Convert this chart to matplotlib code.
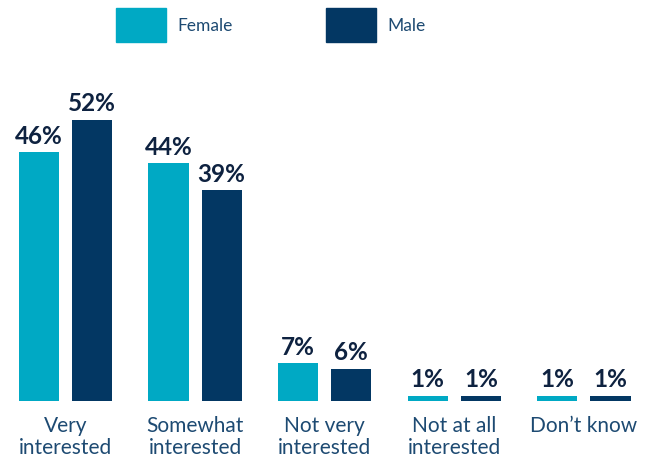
import matplotlib.pyplot as plt
from matplotlib.patches import Rectangle
import numpy as np

categories = ["Very\ninterested", "Somewhat\ninterested", "Not very\ninterested",
              "Not at all\ninterested", "Don\u2019t know"]
female = [46, 44, 7, 1, 1]
male = [52, 39, 6, 1, 1]

FEMALE_COLOR = "#00a9c4"
MALE_COLOR = "#033763"
LABEL_COLOR = "#0e2240"
CAT_COLOR = "#1d4a72"

plt.rcParams['font.family'] = ['Lato', 'DejaVu Sans']

fig = plt.figure(figsize=(6.49, 4.60), dpi=100)
ax = fig.add_axes([0, 58 / 460, 1, 342 / 460])

x = np.arange(len(categories))
width = 0.31
offset = 0.205

bars_f = ax.bar(x - offset, female, width, color=FEMALE_COLOR)
bars_m = ax.bar(x + offset, male, width, color=MALE_COLOR)

for bars, vals in ((bars_f, female), (bars_m, male)):
    for b, v in zip(bars, vals):
        ax.annotate(f"{v}%", (b.get_x() + b.get_width() / 2, v),
                    xytext=(0, 4), textcoords="offset points",
                    ha="center", va="bottom", fontsize=17.5, fontweight="bold",
                    color=LABEL_COLOR)

for xi, cat in zip(x, categories):
    ax.text(xi, -2.6, cat, ha="center", va="top", fontsize=15,
            color=CAT_COLOR, linespacing=1.15)

ax.set_xlim(-0.505, 4.502)
ax.set_ylim(0, 63.3)
ax.axis("off")

# legend drawn as plain boxes in figure pixels
for x0, label, color in ((116, "Female", FEMALE_COLOR), (326, "Male", MALE_COLOR)):
    fig.patches.append(Rectangle((x0 / 649, (460 - 43) / 460), 50 / 649, 34 / 460,
                                 transform=fig.transFigure, color=color))
    fig.text((x0 + 61) / 649, (460 - 26) / 460, label, ha="left", va="center",
             fontsize=12.5, color=CAT_COLOR)

fig.savefig("out.png", dpi=100)
